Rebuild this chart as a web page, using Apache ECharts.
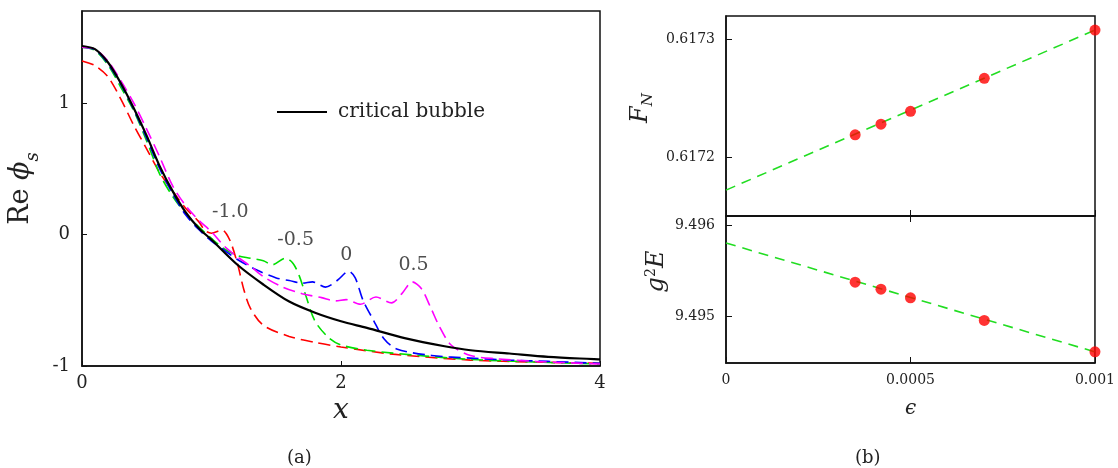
<!DOCTYPE html>
<html>
<head>
<meta charset="utf-8">
<script src="https://cdn.jsdelivr.net/npm/echarts@6/dist/echarts.min.js"></script>
<style>
  html, body { margin: 0; padding: 0; background: #fff; }
  #main { width: 1118px; height: 468px; }
</style>
</head>
<body>
<div id="main"></div>
<script>
  // panel (a): Re phi_s profiles
  const bubbleX = [0, 0.1, 0.2, 0.3, 0.4, 0.5, 0.6, 0.7, 0.8, 0.9, 1.0, 1.2, 1.4, 1.6, 1.8, 2.0, 2.2, 2.5, 2.8, 3.0, 3.3, 3.6, 4.0];
  const bubbleY = [1.434, 1.41, 1.31, 1.15, 0.96, 0.75, 0.52, 0.33, 0.17, 0.05, -0.04, -0.23, -0.38, -0.51, -0.595, -0.66, -0.71, -0.79, -0.85, -0.88, -0.905, -0.93, -0.95];

  const redX = [0, 0.1, 0.2, 0.3, 0.4, 0.5, 0.6, 0.7, 0.8, 0.9, 0.95, 1.0, 1.08, 1.14, 1.2, 1.25, 1.3, 1.4, 1.6, 1.8, 2.0, 2.4, 3.0, 3.5, 4.0];
  const redY = [1.32, 1.285, 1.20, 1.03, 0.83, 0.65, 0.47, 0.33, 0.20, 0.10, 0.03, 0.01, 0.035, -0.04, -0.22, -0.42, -0.56, -0.69, -0.775, -0.82, -0.855, -0.91, -0.955, -0.97, -0.98];

  const greenX = [0, 0.1, 0.2, 0.3, 0.4, 0.5, 0.6, 0.7, 0.8, 0.9, 1.0, 1.1, 1.2, 1.3, 1.4, 1.47, 1.57, 1.63, 1.68, 1.73, 1.8, 1.9, 2.0, 2.2, 2.6, 3.0, 3.5, 4.0];
  const greenY = [1.424, 1.40, 1.29, 1.12, 0.94, 0.71, 0.46, 0.29, 0.16, 0.06, -0.03, -0.11, -0.16, -0.18, -0.20, -0.23, -0.18, -0.22, -0.32, -0.47, -0.66, -0.78, -0.84, -0.88, -0.92, -0.95, -0.97, -0.985];

  const blueX = [0, 0.1, 0.2, 0.3, 0.4, 0.5, 0.6, 0.7, 0.8, 0.9, 1.0, 1.1, 1.2, 1.35, 1.5, 1.6, 1.7, 1.78, 1.88, 1.97, 2.06, 2.11, 2.17, 2.25, 2.33, 2.43, 2.7, 3.0, 3.3, 3.6, 4.0];
  const blueY = [1.424, 1.405, 1.30, 1.14, 0.95, 0.73, 0.50, 0.31, 0.15, 0.04, -0.05, -0.12, -0.19, -0.27, -0.33, -0.35, -0.37, -0.36, -0.40, -0.35, -0.28, -0.33, -0.50, -0.65, -0.79, -0.87, -0.92, -0.94, -0.955, -0.965, -0.98];

  const magentaX = [0, 0.1, 0.2, 0.3, 0.4, 0.5, 0.6, 0.7, 0.8, 0.9, 1.0, 1.1, 1.2, 1.3, 1.4, 1.55, 1.7, 1.85, 1.96, 2.04, 2.15, 2.27, 2.39, 2.47, 2.55, 2.62, 2.69, 2.76, 2.85, 3.0, 3.2, 3.5, 4.0];
  const magentaY = [1.424, 1.41, 1.32, 1.17, 1.00, 0.80, 0.59, 0.37, 0.22, 0.11, 0.02, -0.09, -0.17, -0.24, -0.32, -0.40, -0.45, -0.48, -0.505, -0.495, -0.53, -0.475, -0.52, -0.45, -0.36, -0.41, -0.55, -0.70, -0.84, -0.92, -0.945, -0.965, -0.985];

  // curve labels in panel (a)
  const tagText = ['-1.0', '-0.5', '0', '0.5'];
  const tagX = [1.145, 1.65, 2.04, 2.56];
  const tagY = [0.17, -0.04, -0.16, -0.235];

  // panel (b): extrapolation in epsilon
  const epsX = [0.00035, 0.00042, 0.0005, 0.0007, 0.001];
  const fnY = [0.617219, 0.617228, 0.617239, 0.617267, 0.617308];
  const energyY = [9.495375, 9.495299, 9.495204, 9.494956, 9.494612];
  const fitX = [0, 0.001];
  const fnFit = [0.617172, 0.617308];
  const energyFit = [9.495804, 9.494612];

  const xTicksA = [0, 2, 4];
  const yTicksA = [-1, 0, 1];
  const xTicksB = [0, 0.0005, 0.001];
  const fnTicks = [0.6172, 0.6173];
  const energyTicks = [9.495, 9.496];

  const serif = '"DejaVu Serif", "Liberation Serif", serif';
  const ink = '#222';
  const zip = (xs, ys) => xs.map((x, i) => [x, ys[i]]);

  const dashed = (name, color, xs, ys) => ({
    name: name,
    type: 'line',
    xAxisIndex: 0, yAxisIndex: 0,
    data: zip(xs, ys),
    smooth: 0.3,
    showSymbol: false,
    lineStyle: { color: color, width: 1.6, type: [12, 6] },
    z: 3
  });

  const frame = { color: '#111', width: 1.5 };

  const chart = echarts.init(document.getElementById('main'));

  chart.setOption({
    animation: false,
    textStyle: { fontFamily: serif, color: ink },
    title: [
      { text: '(a)', left: 282, top: 444, textStyle: { fontFamily: serif, fontSize: 18, fontWeight: 'normal', color: ink } },
      { text: '(b)', left: 850, top: 444, textStyle: { fontFamily: serif, fontSize: 18, fontWeight: 'normal', color: ink } }
    ],
    legend: {
      left: 272, top: 97,
      data: [{ name: 'critical bubble', icon: 'rect' }],
      itemWidth: 50, itemHeight: 2,
      textStyle: { fontFamily: serif, fontSize: 20, color: ink, padding: [0, 0, 0, 6] }
    },
    grid: [
      { left: 82, top: 11, right: 518, bottom: 102, show: true, borderColor: '#111', borderWidth: 1.5 },
      { left: 726, top: 16, right: 23, bottom: 252, show: true, borderColor: '#111', borderWidth: 1.5 },
      { left: 726, top: 216, right: 23, bottom: 105, show: true, borderColor: '#111', borderWidth: 1.5 }
    ],
    xAxis: [
      {
        gridIndex: 0, type: 'value', min: 0, max: 4,
        name: 'x', nameLocation: 'middle', nameGap: 24,
        nameTextStyle: { fontFamily: serif, fontSize: 28, fontStyle: 'italic', color: ink },
        axisLine: { onZero: false, lineStyle: frame },
        axisTick: { inside: true, length: 5, customValues: xTicksA, lineStyle: { color: '#111' } },
        axisLabel: { customValues: xTicksA, margin: 8, fontFamily: serif, fontSize: 18, color: ink },
        splitLine: { show: false }
      },
      {
        gridIndex: 1, type: 'value', min: 0, max: 0.001,
        axisLine: { onZero: false, lineStyle: frame },
        axisTick: { inside: true, length: 6, customValues: xTicksB, lineStyle: { color: '#111' } },
        axisLabel: { show: false },
        splitLine: { show: false }
      },
      {
        gridIndex: 2, type: 'value', min: 0, max: 0.001,
        name: 'ϵ', nameLocation: 'middle', nameGap: 36,
        nameTextStyle: { fontFamily: serif, fontSize: 20, fontStyle: 'italic', color: ink },
        axisLine: { onZero: false, lineStyle: frame },
        axisTick: { inside: true, length: 6, customValues: xTicksB, lineStyle: { color: '#111' } },
        axisLabel: {
          customValues: xTicksB, margin: 10, fontFamily: serif, fontSize: 14, color: ink,
          formatter: v => (v === 0 ? '0' : v === 0.0005 ? '0.0005' : '0.001')
        },
        splitLine: { show: false }
      },
      {
        // tick on the shared border, pointing up into the lower panel of (b)
        gridIndex: 2, type: 'value', min: 0, max: 0.001, position: 'top',
        axisLine: { show: false, onZero: false },
        axisTick: { inside: true, length: 6, customValues: [0.0005], lineStyle: { color: '#111' } },
        axisLabel: { show: false },
        splitLine: { show: false }
      }
    ],
    yAxis: [
      {
        gridIndex: 0, type: 'value', min: -1, max: 1.7,
        name: '{r|Re }{p|ϕ}{s|s}', nameLocation: 'middle', nameGap: 40,
        nameTextStyle: {
          rich: {
            r: { fontFamily: serif, fontSize: 27, color: ink },
            p: { fontFamily: serif, fontSize: 27, fontStyle: 'italic', color: ink },
            s: { fontFamily: serif, fontSize: 18, fontStyle: 'italic', color: ink, verticalAlign: 'bottom', padding: [24, 0, 0, 0] }
          }
        },
        axisLine: { onZero: false, lineStyle: frame },
        axisTick: { inside: true, length: 5, customValues: yTicksA, lineStyle: { color: '#111' } },
        axisLabel: { customValues: yTicksA, margin: 12, fontFamily: serif, fontSize: 18, color: ink },
        splitLine: { show: false }
      },
      {
        gridIndex: 1, type: 'value', min: 0.61715, max: 0.61732,
        name: '{f|F}{n|N}', nameLocation: 'middle', nameGap: 70,
        nameTextStyle: {
          padding: [0, 0, 0, 16],
          rich: {
            f: { fontFamily: serif, fontSize: 24, fontStyle: 'italic', color: ink },
            n: { fontFamily: serif, fontSize: 15, fontStyle: 'italic', color: ink, verticalAlign: 'bottom', padding: [16, 0, 0, 0] }
          }
        },
        axisLine: { onZero: false, lineStyle: frame },
        axisTick: { inside: true, length: 6, customValues: fnTicks, lineStyle: { color: '#111' } },
        axisLabel: { customValues: fnTicks, margin: 11, fontFamily: serif, fontSize: 14, color: ink, formatter: v => v.toFixed(4) },
        splitLine: { show: false }
      },
      {
        gridIndex: 2, type: 'value', min: 9.49449, max: 9.4961,
        name: '{g|g}{e|2}{g|E}', nameLocation: 'middle', nameGap: 56,
        nameTextStyle: {
          padding: [0, 0, 0, 36],
          rich: {
            g: { fontFamily: serif, fontSize: 24, fontStyle: 'italic', color: ink },
            e: { fontFamily: serif, fontSize: 14, color: ink, verticalAlign: 'top', padding: [0, 0, 12, 0] }
          }
        },
        axisLine: { onZero: false, lineStyle: frame },
        axisTick: { inside: true, length: 6, customValues: energyTicks, lineStyle: { color: '#111' } },
        axisLabel: { customValues: energyTicks, margin: 11, fontFamily: serif, fontSize: 14, color: ink, formatter: v => v.toFixed(3) },
        splitLine: { show: false }
      }
    ],
    series: [
      dashed('-1.0', '#ff0000', redX, redY),
      dashed('-0.5', '#00e000', greenX, greenY),
      dashed('0', '#0000ff', blueX, blueY),
      dashed('0.5', '#ff00ff', magentaX, magentaY),
      {
        name: 'critical bubble',
        type: 'line',
        xAxisIndex: 0, yAxisIndex: 0,
        data: zip(bubbleX, bubbleY),
        smooth: 0.3,
        showSymbol: false,
        itemStyle: { color: '#000' },
        lineStyle: { color: '#000', width: 2.2 },
        z: 4
      },
      {
        name: 'tags',
        type: 'scatter',
        xAxisIndex: 0, yAxisIndex: 0,
        symbolSize: 0,
        data: tagX.map((x, i) => ({ value: [x, tagY[i]], name: tagText[i] })),
        label: {
          show: true, position: 'inside', formatter: p => p.name,
          fontFamily: serif, fontSize: 19, color: ink
        },
        silent: true,
        z: 5
      },
      {
        name: 'fit F',
        type: 'line',
        xAxisIndex: 1, yAxisIndex: 1,
        data: zip(fitX, fnFit),
        showSymbol: false,
        lineStyle: { color: '#22dd22', width: 1.6, type: [10, 7] }
      },
      {
        name: 'F',
        type: 'scatter',
        xAxisIndex: 1, yAxisIndex: 1,
        data: zip(epsX, fnY),
        symbolSize: 11,
        itemStyle: { color: '#ff0000' },
        z: 4
      },
      {
        name: 'fit E',
        type: 'line',
        xAxisIndex: 2, yAxisIndex: 2,
        data: zip(fitX, energyFit),
        showSymbol: false,
        lineStyle: { color: '#22dd22', width: 1.6, type: [10, 7] }
      },
      {
        name: 'E',
        type: 'scatter',
        xAxisIndex: 2, yAxisIndex: 2,
        data: zip(epsX, energyY),
        symbolSize: 11,
        itemStyle: { color: '#ff0000' },
        z: 4
      }
    ]
  });
</script>
</body>
</html>
